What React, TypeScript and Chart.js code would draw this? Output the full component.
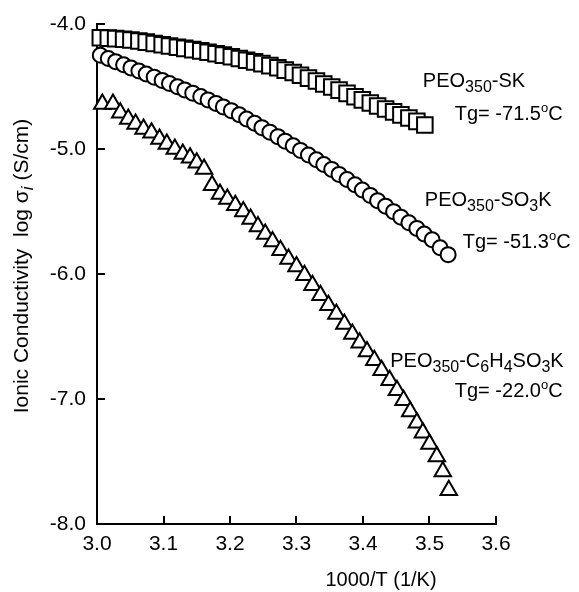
import React, { useEffect, useRef } from "react";
import { Chart, registerables } from "chart.js";

Chart.register(...registerables);

const FONT = '"Liberation Sans", Arial, Helvetica, sans-serif';

// PEO350-SK (squares)
const skX = [3.005, 3.017, 3.028, 3.04, 3.051, 3.063, 3.074, 3.086, 3.098, 3.109, 3.121, 3.132, 3.144, 3.156, 3.167, 3.179, 3.19, 3.202, 3.214, 3.225, 3.237, 3.248, 3.26, 3.272, 3.283, 3.295, 3.306, 3.318, 3.33, 3.341, 3.353, 3.364, 3.376, 3.388, 3.399, 3.411, 3.422, 3.434, 3.446, 3.457, 3.469, 3.481, 3.493];
const skY = [-4.11, -4.113, -4.117, -4.122, -4.128, -4.136, -4.145, -4.156, -4.166, -4.176, -4.186, -4.195, -4.205, -4.215, -4.226, -4.238, -4.249, -4.262, -4.276, -4.29, -4.303, -4.317, -4.333, -4.35, -4.369, -4.388, -4.41, -4.433, -4.456, -4.48, -4.504, -4.529, -4.555, -4.582, -4.607, -4.632, -4.656, -4.68, -4.703, -4.727, -4.752, -4.779, -4.808];

// PEO350-SO3K (circles)
const so3kX = [3.005, 3.017, 3.028, 3.04, 3.051, 3.063, 3.074, 3.086, 3.098, 3.109, 3.121, 3.132, 3.144, 3.156, 3.167, 3.179, 3.19, 3.202, 3.214, 3.225, 3.237, 3.248, 3.26, 3.272, 3.283, 3.295, 3.306, 3.318, 3.33, 3.341, 3.353, 3.364, 3.376, 3.388, 3.399, 3.411, 3.422, 3.434, 3.446, 3.457, 3.469, 3.481, 3.492, 3.504, 3.516, 3.528];
const so3kY = [-4.25, -4.276, -4.301, -4.326, -4.351, -4.376, -4.4, -4.425, -4.451, -4.476, -4.502, -4.527, -4.553, -4.58, -4.607, -4.635, -4.663, -4.693, -4.726, -4.76, -4.794, -4.829, -4.865, -4.901, -4.937, -4.974, -5.011, -5.048, -5.086, -5.124, -5.163, -5.203, -5.244, -5.286, -5.328, -5.371, -5.413, -5.457, -5.501, -5.545, -5.59, -5.635, -5.68, -5.726, -5.79, -5.845];

// PEO350-C6H4SO3K (triangles)
const c6X = [3.008, 3.024, 3.035, 3.047, 3.058, 3.07, 3.082, 3.094, 3.105, 3.117, 3.129, 3.14, 3.15, 3.161, 3.173, 3.185, 3.196, 3.208, 3.22, 3.231, 3.242, 3.253, 3.264, 3.276, 3.288, 3.3, 3.312, 3.324, 3.336, 3.348, 3.36, 3.372, 3.384, 3.395, 3.406, 3.417, 3.428, 3.44, 3.451, 3.461, 3.471, 3.481, 3.49, 3.5, 3.511, 3.52, 3.529];
const c6Y = [-4.64, -4.64, -4.71, -4.76, -4.8, -4.84, -4.87, -4.92, -4.96, -5.0, -5.04, -5.07, -5.11, -5.16, -5.29, -5.36, -5.4, -5.45, -5.5, -5.56, -5.62, -5.68, -5.74, -5.81, -5.88, -5.94, -6.01, -6.09, -6.17, -6.25, -6.32, -6.4, -6.48, -6.55, -6.62, -6.69, -6.77, -6.85, -6.93, -7.01, -7.1, -7.19, -7.27, -7.36, -7.46, -7.58, -7.73];

const xTicks = [3.0, 3.1, 3.2, 3.3, 3.4, 3.5, 3.6];
const yTicks = [-8.0, -7.0, -6.0, -5.0, -4.0];

type Seg = { t: string; sub?: boolean; sup?: boolean; it?: boolean };

const seriesLabels: Seg[][] = [
  [{ t: "PEO" }, { t: "350", sub: true }, { t: "-SK" }],
  [{ t: "Tg= -71.5" }, { t: "o", sup: true }, { t: "C" }],
  [{ t: "PEO" }, { t: "350", sub: true }, { t: "-SO" }, { t: "3", sub: true }, { t: "K" }],
  [{ t: "Tg= -51.3" }, { t: "o", sup: true }, { t: "C" }],
  [{ t: "PEO" }, { t: "350", sub: true }, { t: "-C" }, { t: "6", sub: true }, { t: "H" }, { t: "4", sub: true }, { t: "SO" }, { t: "3", sub: true }, { t: "K" }],
  [{ t: "Tg= -22.0" }, { t: "o", sup: true }, { t: "C" }],
];
// anchor (left, baseline) of each label, in data units
const labelAtX = [3.49, 3.538, 3.493, 3.55, 3.441, 3.538];
const labelAtY = [-4.504, -4.768, -5.456, -5.792, -6.744, -6.984];

const xTitle: Seg[] = [{ t: "1000/T (1/K)" }];
const yTitle: Seg[] = [{ t: "Ionic Conductivity  log \u03C3" }, { t: "i", sub: true, it: true }, { t: " (S/cm)" }];

function segFont(s: Seg, size: number) {
  const sz = s.sub ? Math.round(size * 0.8) : s.sup ? Math.round(size * 0.65) : size;
  return `${s.it ? "italic " : ""}${sz}px ${FONT}`;
}
function segShift(s: Seg, size: number) {
  return s.sub ? size * 0.25 : s.sup ? -size * 0.4 : 0;
}
function richWidth(ctx: CanvasRenderingContext2D, segs: Seg[], size: number) {
  let w = 0;
  for (const s of segs) {
    ctx.font = segFont(s, size);
    w += ctx.measureText(s.t).width;
  }
  return w;
}
function drawRich(ctx: CanvasRenderingContext2D, segs: Seg[], x: number, y: number, size: number) {
  let cx = x;
  ctx.textAlign = "left";
  ctx.textBaseline = "alphabetic";
  for (const s of segs) {
    ctx.font = segFont(s, size);
    ctx.fillText(s.t, cx, y + segShift(s, size));
    cx += ctx.measureText(s.t).width;
  }
}

const decorPlugin = {
  id: "decor",
  beforeDatasetsDraw(chart: any) {
    const { ctx, chartArea } = chart;
    const xs = chart.scales.x;
    const ys = chart.scales.y;
    ctx.save();
    ctx.strokeStyle = "#000";
    ctx.lineWidth = 2;
    ctx.lineCap = "square";
    ctx.beginPath();
    ctx.moveTo(chartArea.left, chartArea.top);
    ctx.lineTo(chartArea.left, chartArea.bottom);
    ctx.lineTo(chartArea.right, chartArea.bottom);
    ctx.stroke();
    ctx.lineCap = "butt";
    ctx.beginPath();
    for (const v of xTicks) {
      const px = Math.round(xs.getPixelForValue(v));
      ctx.moveTo(px, chartArea.bottom);
      ctx.lineTo(px, chartArea.bottom - 8);
    }
    for (const v of yTicks) {
      const py = Math.round(ys.getPixelForValue(v));
      ctx.moveTo(chartArea.left, py);
      ctx.lineTo(chartArea.left + 8, py);
    }
    ctx.stroke();
    ctx.restore();
  },
  afterDraw(chart: any) {
    const { ctx } = chart;
    const xs = chart.scales.x;
    const ys = chart.scales.y;
    ctx.save();
    ctx.fillStyle = "#000";
    seriesLabels.forEach((segs, i) => {
      drawRich(ctx, segs, xs.getPixelForValue(labelAtX[i]), ys.getPixelForValue(labelAtY[i]), 20);
    });
    // x title
    const wx = richWidth(ctx, xTitle, 20);
    drawRich(ctx, xTitle, 381 - wx / 2, 586, 20);
    // y title (rotated)
    ctx.translate(28, 266);
    ctx.rotate(-Math.PI / 2);
    const wy = richWidth(ctx, yTitle, 21);
    drawRich(ctx, yTitle, -wy / 2, 0, 21);
    ctx.restore();
  },
};

function pts(xs: number[], ys: number[]) {
  return xs.map((x, i) => ({ x, y: ys[i] }));
}

export default function App() {
  const ref = useRef<HTMLCanvasElement>(null);
  useEffect(() => {
    if (!ref.current) return;
    const common = {
      showLine: false,
      pointBackgroundColor: "#fff",
      pointBorderColor: "#000",
      backgroundColor: "#fff",
      borderColor: "#000",
      pointBorderWidth: 2,
      borderWidth: 2,
      clip: false as any,
    };
    const chart = new Chart(ref.current, {
      type: "scatter",
      data: {
        datasets: [
          { ...common, label: "PEO350-SK", data: pts(skX, skY), pointStyle: "rect", pointRadius: 11 },
          { ...common, label: "PEO350-SO3K", data: pts(so3kX, so3kY), pointStyle: "circle", pointRadius: 7.5 },
          { ...common, label: "PEO350-C6H4SO3K", data: pts(c6X, c6Y), pointStyle: "triangle", pointRadius: 9.5 },
        ],
      },
      options: {
        animation: false,
        responsive: false,
        devicePixelRatio: 1,
        layout: { padding: { top: 24, right: 83, left: 0, bottom: 0 } },
        plugins: { legend: { display: false }, tooltip: { enabled: false } },
        scales: {
          x: {
            type: "linear",
            min: 3.0,
            max: 3.6,
            afterBuildTicks: (s: any) => {
              s.ticks = xTicks.map((v) => ({ value: v }));
            },
            afterFit: (s: any) => {
              s.height = 68;
            },
            grid: { display: false, drawTicks: false },
            border: { display: false },
            ticks: {
              padding: 8,
              color: "#000",
              font: { size: 21, family: FONT },
              maxRotation: 0,
              autoSkip: false,
              callback: (v: any) => Number(v).toFixed(1),
            },
          },
          y: {
            type: "linear",
            min: -8,
            max: -4,
            afterBuildTicks: (s: any) => {
              s.ticks = yTicks.map((v) => ({ value: v }));
            },
            afterFit: (s: any) => {
              s.width = 97;
            },
            grid: { display: false, drawTicks: false },
            border: { display: false },
            ticks: {
              padding: 11,
              color: "#000",
              font: { size: 21, family: FONT },
              autoSkip: false,
              callback: (v: any) => Number(v).toFixed(1),
            },
          },
        },
      },
      plugins: [decorPlugin],
    });
    return () => chart.destroy();
  }, []);
  return (
    <div style={{ position: "fixed", left: 0, top: 0, width: 579, height: 592, background: "#fff" }}>
      <canvas ref={ref} width={579} height={592} style={{ display: "block" }} />
    </div>
  );
}
